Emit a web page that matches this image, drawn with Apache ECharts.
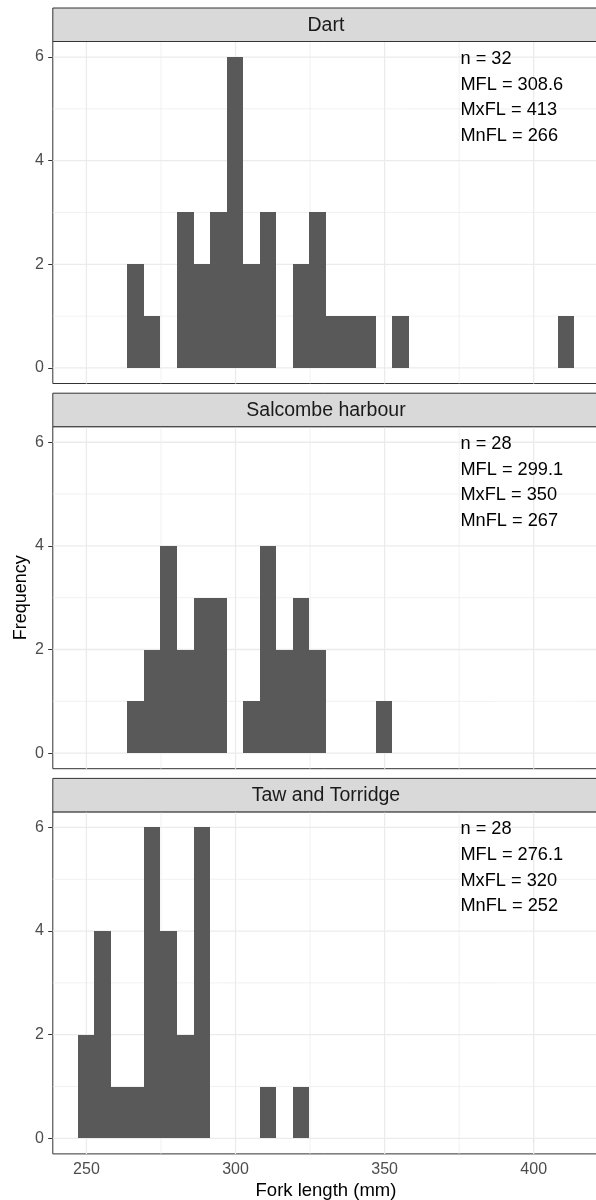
<!DOCTYPE html>
<html>
<head>
<meta charset="utf-8">
<script src="https://cdn.jsdelivr.net/npm/echarts@6/dist/echarts.min.js"></script>
<style>
html, body { margin: 0; padding: 0; background: #ffffff; }
#chart { width: 596px; height: 1200px; }
</style>
</head>
<body>
<div id="chart"></div>
<script>
// ---------------- data ----------------
const sites = ['Dart', 'Salcombe harbour', 'Taw and Torridge'];

// histogram bin edges (30 bins of width ~5.55 mm)
const binEdges = [247.05, 252.60, 258.16, 263.71, 269.26, 274.81, 280.36, 285.91, 291.47, 297.02,
                  302.57, 308.12, 313.67, 319.22, 324.78, 330.33, 335.88, 341.43, 346.98, 352.53,
                  358.09, 363.64, 369.19, 374.74, 380.29, 385.84, 391.40, 396.95, 402.50, 408.05, 413.60];

const dartCounts     = [0, 0, 0, 2, 1, 0, 3, 2, 3, 6, 2, 3, 0, 2, 3, 1, 1, 1, 0, 1, 0, 0, 0, 0, 0, 0, 0, 0, 0, 1];
const salcombeCounts = [0, 0, 0, 1, 2, 4, 2, 3, 3, 0, 1, 4, 2, 3, 2, 0, 0, 0, 1, 0, 0, 0, 0, 0, 0, 0, 0, 0, 0, 0];
const tawCounts      = [2, 4, 1, 1, 6, 4, 2, 6, 0, 0, 0, 1, 0, 1, 0, 0, 0, 0, 0, 0, 0, 0, 0, 0, 0, 0, 0, 0, 0, 0];

const nValues    = [32, 28, 28];
const mflValues  = ['308.6', '299.1', '276.1'];
const mxflValues = [413, 350, 320];
const mnflValues = [266, 267, 252];

const xTicks      = [250, 300, 350, 400];
const xMinorTicks = [275, 325, 375];
const yTicks      = [0, 2, 4, 6];
const yMinorTicks = [1, 3, 5];
const xRange      = [238.72, 421.93];
const yRange      = [-0.3, 6.3];
const statsAnchor = [375, 6];

const xTitle = 'Fork length (mm)';
const yTitle = 'Frequency';

// ---------------- layout ----------------
const FONT = "'Liberation Sans', Arial, Helvetica, sans-serif";
const PANEL_LEFT = 52.8;
const PANEL_WIDTH = 546.3;
const STRIP_TOPS = [8, 393.2, 778.4];
const STRIP_H = 33.5;
const PANEL_H = 342;

const allCounts = [dartCounts, salcombeCounts, tawCounts];

const chart = echarts.init(document.getElementById('chart'), null, { renderer: 'canvas' });

const grids = [], xAxes = [], yAxes = [], series = [], graphics = [];

function gridLineRender(width) {
  return function (params, api) {
    const cs = params.coordSys;
    const orient = api.value(2);
    const p = api.coord([api.value(0), api.value(1)]);
    let shape;
    if (orient === 0) {
      shape = { x1: cs.x, y1: p[1], x2: cs.x + cs.width, y2: p[1] };
    } else {
      shape = { x1: p[0], y1: cs.y, x2: p[0], y2: cs.y + cs.height };
    }
    return { type: 'line', shape: shape, style: { stroke: '#ebebeb', lineWidth: width } };
  };
}

function barRender(params, api) {
  const c = api.value(2);
  if (!c) return null;
  const p0 = api.coord([api.value(0), c]);
  const p1 = api.coord([api.value(1), 0]);
  // snap to whole pixels so neighbouring bins meet without seams
  const x0 = Math.round(p0[0]), x1 = Math.round(p1[0]);
  const y0 = Math.round(p0[1]), y1 = Math.round(p1[1]);
  return {
    type: 'rect',
    shape: { x: x0, y: y0, width: x1 - x0, height: y1 - y0 },
    style: { fill: '#595959' }
  };
}

sites.forEach(function (site, i) {
  const top = STRIP_TOPS[i] + STRIP_H;
  const isBottom = i === sites.length - 1;
  grids.push({
    left: PANEL_LEFT, top: top, width: PANEL_WIDTH, height: PANEL_H,
    show: true, backgroundColor: '#ffffff', borderColor: '#333333', borderWidth: 1,
    containLabel: false, outerBoundsMode: 'none'
  });
  xAxes.push({
    type: 'value', gridIndex: i, min: xRange[0], max: xRange[1],
    axisLine: { show: false },
    axisTick: { show: isBottom, customValues: xTicks, length: 4.6, lineStyle: { color: '#333333', width: 1 } },
    axisLabel: { show: isBottom, customValues: xTicks, margin: 8, color: '#4d4d4d', fontSize: 16, fontFamily: FONT },
    splitLine: { show: false },
    name: isBottom ? xTitle : '',
    nameLocation: 'middle', nameGap: 28,
    nameTextStyle: { color: '#000000', fontSize: 18.5, fontFamily: FONT }
  });
  yAxes.push({
    type: 'value', gridIndex: i, min: yRange[0], max: yRange[1],
    axisLine: { show: false },
    axisTick: { show: true, customValues: yTicks, length: 4.6, lineStyle: { color: '#333333', width: 1 } },
    axisLabel: { show: true, customValues: yTicks, margin: 9, color: '#4d4d4d', fontSize: 16, fontFamily: FONT },
    splitLine: { show: false }
  });

  const majorData = yTicks.map(v => [xRange[0], v, 0]).concat(xTicks.map(v => [v, yRange[0], 1]));
  const minorData = yMinorTicks.map(v => [xRange[0], v, 0]).concat(xMinorTicks.map(v => [v, yRange[0], 1]));

  series.push({
    type: 'custom', xAxisIndex: i, yAxisIndex: i, silent: true, z: 1,
    renderItem: gridLineRender(0.7), encode: { x: 0, y: 1 }, data: minorData, animation: false
  });
  series.push({
    type: 'custom', xAxisIndex: i, yAxisIndex: i, silent: true, z: 1,
    renderItem: gridLineRender(1.3), encode: { x: 0, y: 1 }, data: majorData, animation: false
  });

  const counts = allCounts[i];
  const barData = counts.map((c, k) => [binEdges[k], binEdges[k + 1], c]);
  series.push({
    type: 'custom', xAxisIndex: i, yAxisIndex: i, silent: true, z: 2,
    renderItem: barRender, encode: { x: [0, 1], y: 2 }, data: barData, animation: false
  });

  const statText = 'n = ' + nValues[i] + '\nMFL = ' + mflValues[i] +
                   '\nMxFL = ' + mxflValues[i] + '\nMnFL = ' + mnflValues[i];
  series.push({
    type: 'custom', xAxisIndex: i, yAxisIndex: i, silent: true, z: 3, clip: false,
    encode: { x: 0, y: 1 }, data: [statsAnchor], animation: false,
    renderItem: function (params, api) {
      const p = api.coord([api.value(0), api.value(1)]);
      return {
        type: 'text', x: p[0] + 1.3, y: p[1] - 11,
        style: {
          text: statText, fill: '#000000', fontSize: 18.2, fontFamily: FONT,
          lineHeight: 25.67, align: 'left', verticalAlign: 'top'
        }
      };
    }
  });

  graphics.push({
    type: 'rect', z: 10,
    shape: { x: PANEL_LEFT, y: STRIP_TOPS[i], width: PANEL_WIDTH, height: STRIP_H },
    style: { fill: '#d9d9d9', stroke: '#333333', lineWidth: 1 }
  });
  graphics.push({
    type: 'text', z: 11,
    x: PANEL_LEFT + PANEL_WIDTH / 2, y: STRIP_TOPS[i] + 17.5,
    style: { text: site, fill: '#1a1a1a', fontSize: 19.5, fontFamily: FONT, align: 'center', verticalAlign: 'middle' }
  });
});

// y-axis title, centred on the middle panel
graphics.push({
  type: 'text', z: 11,
  x: 21.5, y: STRIP_TOPS[1] + STRIP_H + PANEL_H / 2,
  rotation: Math.PI / 2,
  style: { text: yTitle, fill: '#000000', fontSize: 18, fontFamily: FONT, align: 'center', verticalAlign: 'middle' }
});

chart.setOption({
  animation: false,
  backgroundColor: '#ffffff',
  grid: grids,
  xAxis: xAxes,
  yAxis: yAxes,
  series: series,
  graphic: graphics
});
</script>
</body>
</html>
